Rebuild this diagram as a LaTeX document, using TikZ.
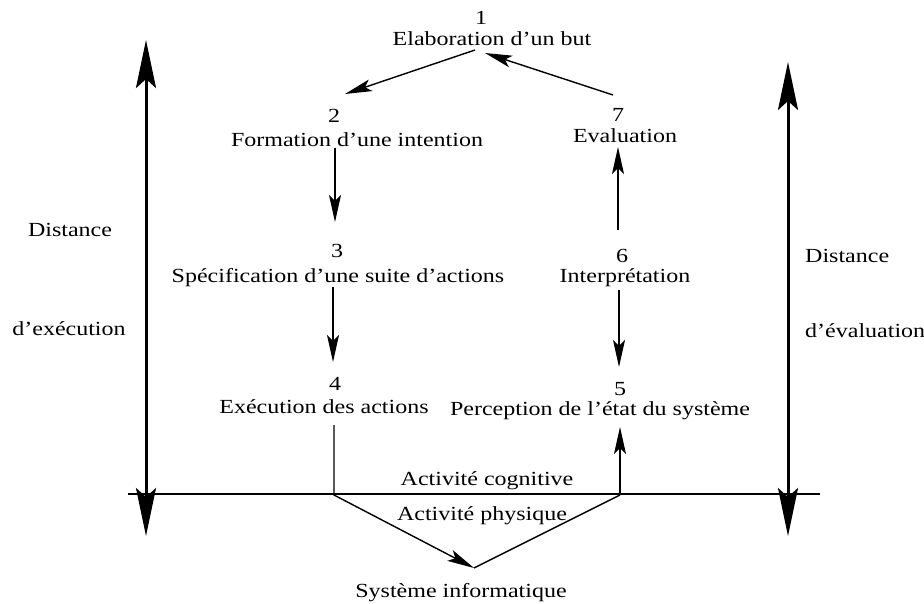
\documentclass[tikz,border=0pt]{standalone}
\usepackage{fontspec}
\setmainfont[FakeStretch=1.2]{Liberation Serif}
\usetikzlibrary{arrows.meta}
\begin{document}
\begin{tikzpicture}[x=1pt,y=-1pt,
  lbl/.style={anchor=base,inner sep=0pt,font=\fontsize{20}{22}\selectfont},
  thin/.style={line width=1.4pt,-{Stealth[length=27pt,width=12pt,inset=6pt]}},
  plain/.style={line width=1.4pt},
  thick/.style={line width=3pt,{Stealth[length=48pt,width=20pt,inset=9pt]}-{Stealth[length=48pt,width=20pt,inset=9pt]}}]
\useasboundingbox (0,0) rectangle (924,604);
% labels
\node[lbl] (n1) at (481,25) {1};
\node[lbl] (t1) at (492,46) {Elaboration d’un but};
\node[lbl] (n2) at (334,123) {2};
\node[lbl] (t2) at (357,147) {Formation d’une intention};
\node[lbl] (n3) at (337,258) {3};
\node[lbl] (t3) at (338,283) {Spécification d’une suite d’actions};
\node[lbl] (n4) at (335,390) {4};
\node[lbl] (t4) at (324,413) {Exécution des actions};
\node[lbl] (n5) at (620,395) {5};
\node[lbl] (t5) at (600,415) {Perception de l’état du système};
\node[lbl] (n6) at (622,262) {6};
\node[lbl] (t6) at (625,283) {Interprétation};
\node[lbl] (n7) at (618,122) {7};
\node[lbl] (t7) at (625,143) {Evaluation};
\node[lbl] (cog) at (487,485) {Activité cognitive};
\node[lbl] (phy) at (482,520) {Activité physique};
\node[lbl] (sys) at (461,597) {Système informatique};
\node[lbl] (dl1) at (70,237) {Distance};
\node[lbl] (dl2) at (69,335) {d’exécution};
\node[lbl,anchor=base west] (dr1) at (805,263) {Distance};
\node[lbl,anchor=base west] (dr2) at (805,337) {d’évaluation};
% connector ends
\coordinate (c1a) at (475,50);
\coordinate (c2a) at (345,94);
\coordinate (c1b) at (485,53);
\coordinate (c7a) at (613,95);
\coordinate (c2b) at (335,148);
\coordinate (c3a) at (335,222);
\coordinate (c3b) at (333,287);
\coordinate (c4a) at (333,362);
\coordinate (c6a) at (618,230);
\coordinate (c7b) at (618,147);
\coordinate (c6b) at (619,290);
\coordinate (c5a) at (619,367);
\coordinate (c4b) at (334,425);
\coordinate (l4) at (334,495);
\coordinate (sysp) at (474,568);
\coordinate (l5) at (620,495);
\coordinate (c5b) at (620,427);
\coordinate (hl) at (128,494);
\coordinate (hr) at (820,494);
\coordinate (lt) at (146,40);
\coordinate (lb) at (146,536);
\coordinate (rt) at (788,62);
\coordinate (rb) at (788,536);
% connectors
\draw[thin] (c1a) -- (c2a);
\draw[thin] (c7a) -- (c1b);
\draw[thin] (c2b) -- (c3a);
\draw[thin] (c3b) -- (c4a);
\draw[thin] (c6a) -- (c7b);
\draw[thin] (c6b) -- (c5a);
\draw[thin] (c4b) -- (l4) -- (sysp);
\draw[plain] (sysp) -- (l5);
\draw[thin] (l5) -- (c5b);
\draw[line width=2.5pt] (hl) -- (hr);
\draw[thick] (lt) -- (lb);
\draw[thick] (rt) -- (rb);
\end{tikzpicture}
\end{document}
